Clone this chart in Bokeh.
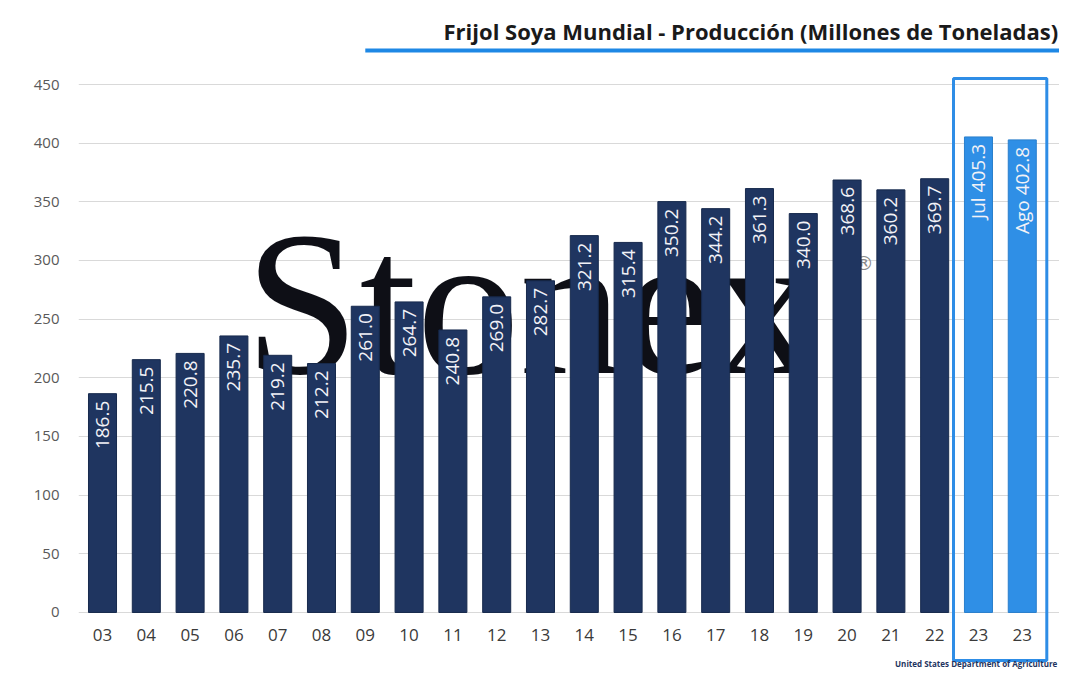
import numpy as np
from bokeh.plotting import figure
from bokeh.models import Range1d, FixedTicker, Label, BoxAnnotation, ColumnDataSource
from bokeh.core.properties import value
from bokeh.embed import file_html
from bokeh.resources import INLINE

# ---- data ----
years = ["03", "04", "05", "06", "07", "08", "09", "10", "11", "12", "13",
         "14", "15", "16", "17", "18", "19", "20", "21", "22", "23", "23"]
production = [186.5, 215.5, 220.8, 235.7, 219.2, 212.2, 261.0, 264.7, 240.8, 269.0, 282.7,
              321.2, 315.4, 350.2, 344.2, 361.3, 340.0, 368.6, 360.2, 369.7, 405.3, 402.8]
label_prefix = [""] * 20 + ["Jul ", "Ago "]
y_ticks = [0, 50, 100, 150, 200, 250, 300, 350, 400, 450]
title_text = "Frijol Soya Mundial - Producción (Millones de Toneladas)"
source_text = "United States Department of Agriculture"

NAVY = "#1F3560"
BLUE = "#2F8FE6"
n = len(production)
n_hi = 2
idx = np.arange(n)
colors = [NAVY] * (n - n_hi) + [BLUE] * n_hi
line_colors = ["#172a4d"] * (n - n_hi) + ["#2A7FCC"] * n_hi
labels = [f"{p}{v:.1f}" for p, v in zip(label_prefix, production)]

src = ColumnDataSource(dict(x=idx, top=production, color=colors, lc=line_colors, lab=labels))

p = figure(width=1059, height=669, output_backend="svg", toolbar_location=None,
           x_range=Range1d(-0.548, 21.85), y_range=Range1d(-48.6, 521.6),
           min_border_left=78, min_border_right=0, min_border_top=0, min_border_bottom=0)
p.outline_line_color = None
p.background_fill_color = "white"
p.border_fill_color = "white"

# grid
p.xgrid.grid_line_color = None
p.ygrid.ticker = FixedTicker(ticks=y_ticks)
p.ygrid.grid_line_color = "#D9D9D9"
p.ygrid.grid_line_width = 1

# y axis
p.yaxis.ticker = FixedTicker(ticks=y_ticks)
p.yaxis.axis_line_color = None
p.yaxis.major_tick_line_color = None
p.yaxis.minor_tick_line_color = None
p.yaxis.major_label_text_font = "Open Sans"
p.yaxis.major_label_text_font_size = "15px"
p.yaxis.major_label_text_color = "#595959"
p.yaxis.major_label_standoff = 13

# x axis fixed at y = 0
p.xaxis.fixed_location = 0
p.xaxis.ticker = FixedTicker(ticks=list(idx))
p.xaxis.major_label_overrides = {int(i): y for i, y in zip(idx, years)}
p.xaxis.axis_line_color = None
p.xaxis.major_tick_line_color = None
p.xaxis.minor_tick_line_color = None
p.xaxis.major_label_text_font = "Open Sans"
p.xaxis.major_label_text_font_size = "17px"
p.xaxis.major_label_text_color = "#3A3A3A"
p.xaxis.major_label_standoff = 11

# watermark logo (behind bars)
wm = Label(x=3.25, y=263, text="Stonex", text_font="Liberation Serif", text_font_size="206px",
           text_color="#0E0F16", text_baseline="alphabetic", level="underlay")
p.add_layout(wm)
reg = Label(x=17.15, y=298, text="®", text_font="DejaVu Sans", text_font_size="20px",
            text_color="#8A8A8A", text_baseline="middle", level="underlay")
p.add_layout(reg)

# bars
p.vbar(x="x", top="top", width=0.64, source=src, fill_color="color", line_color="lc", line_width=1)

# value labels
p.text(x="x", y="top", text="lab", source=src, angle=np.pi / 2, text_align="right",
       text_baseline="middle", y_offset=7, text_color="#F2F2F7",
       text_font=value("Open Sans"), text_font_size="19px")

# highlight box around the last two bars
hb = BoxAnnotation(left=n - n_hi - 0.57, right=n - 1 + 0.56, bottom=-40.9, top=455.1,
                   fill_alpha=0, line_color="#2E8DE6", line_alpha=1, line_width=3)
p.add_layout(hb)

# title and its underline
p.add_layout(Label(x=21.82, y=496, text=title_text, text_align="right", text_baseline="middle",
                   text_font="Open Sans", text_font_style="bold", text_font_size="22px",
                   text_color="#1A1A1A"))
p.add_layout(BoxAnnotation(left=6.0, right=21.9, bottom=477.3, top=480.7,
                           fill_color="#1E88E5", fill_alpha=1, line_color=None))

# source footer
p.add_layout(Label(x=21.8, y=-48.0, text=source_text, text_align="right", text_baseline="bottom",
                   text_font="Open Sans", text_font_style="bold", text_font_size="8px",
                   text_color="#1F3560"))

open("out.html", "w").write(file_html(p, INLINE))
